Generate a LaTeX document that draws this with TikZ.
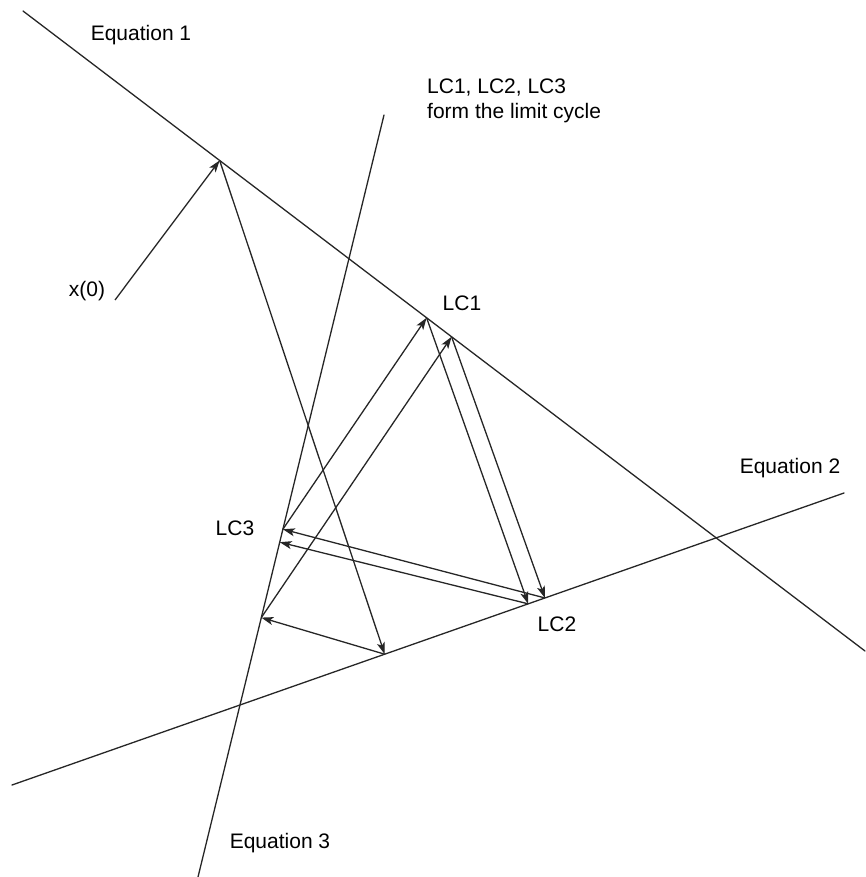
\documentclass[tikz,border=0pt]{standalone}
\usepackage{fontspec}
\setmainfont{Liberation Sans}
\usetikzlibrary{calc,arrows.meta}
\begin{document}
\begin{tikzpicture}[x=1pt,y=-1pt,
  eqline/.style={line width=1.3pt, line cap=round, draw=black!85},
  traj/.style={line width=1.3pt, draw=black!85, -{Stealth[length=12pt,width=8pt,inset=3pt]}},
  lbl/.style={font=\fontsize{21}{25}\selectfont, inner sep=0pt}]
\useasboundingbox (0,0) rectangle (865,877);
% equation lines
\coordinate (e1a) at (23,11);  \coordinate (e1b) at (865,651);
\coordinate (e2a) at (12,785); \coordinate (e2b) at (844,493);
\coordinate (e3a) at (198,877); \coordinate (e3b) at (384,115);
\draw[eqline] (e1a) -- (e1b);
\draw[eqline] (e2a) -- (e2b);
\draw[eqline] (e3a) -- (e3b);
% trajectory points
\coordinate (P0) at (115,300);
\coordinate (A1) at ($(e1a)!(220,160)!(e1b)$);
\coordinate (B1) at ($(e2a)!(385,655)!(e2b)$);
\coordinate (C1) at ($(e3a)!(259,617)!(e3b)$);
\coordinate (A2) at ($(e1a)!(453,335)!(e1b)$);
\coordinate (B2) at ($(e2a)!(545,598)!(e2b)$);
\coordinate (C2) at ($(e3a)!(282,529)!(e3b)$);
\coordinate (A3) at ($(e1a)!(428,316)!(e1b)$);
\coordinate (B3) at ($(e2a)!(528,603)!(e2b)$);
\coordinate (C3) at ($(e3a)!(275,541)!(e3b)$);
\draw[traj] (P0) -- (A1);
\draw[traj] (A1) -- (B1);
\draw[traj] (B1) -- (C1);
\draw[traj] (C1) -- (A2);
\draw[traj] (A2) -- (B2);
\draw[traj] (B2) -- (C2);
\draw[traj] (C2) -- (A3);
\draw[traj] (A3) -- (B3);
\draw[traj] (B3) -- (C3);
% labels
\node[lbl] (eq1) at (141,35) {Equation 1};
\node[lbl] (eq2) at (790,468) {Equation 2};
\node[lbl] (eq3) at (280,843) {Equation 3};
\node[lbl, anchor=north west, align=left, font=\fontsize{21}{25}\selectfont] (note) at (427,79) {LC1, LC2, LC3\\form the limit cycle};
\node[lbl] (x0) at (87,291) {x(0)};
\node[lbl] (lc1) at (462,303) {LC1};
\node[lbl] (lc2) at (557,624) {LC2};
\node[lbl] (lc3) at (235,528) {LC3};
\end{tikzpicture}
\end{document}
